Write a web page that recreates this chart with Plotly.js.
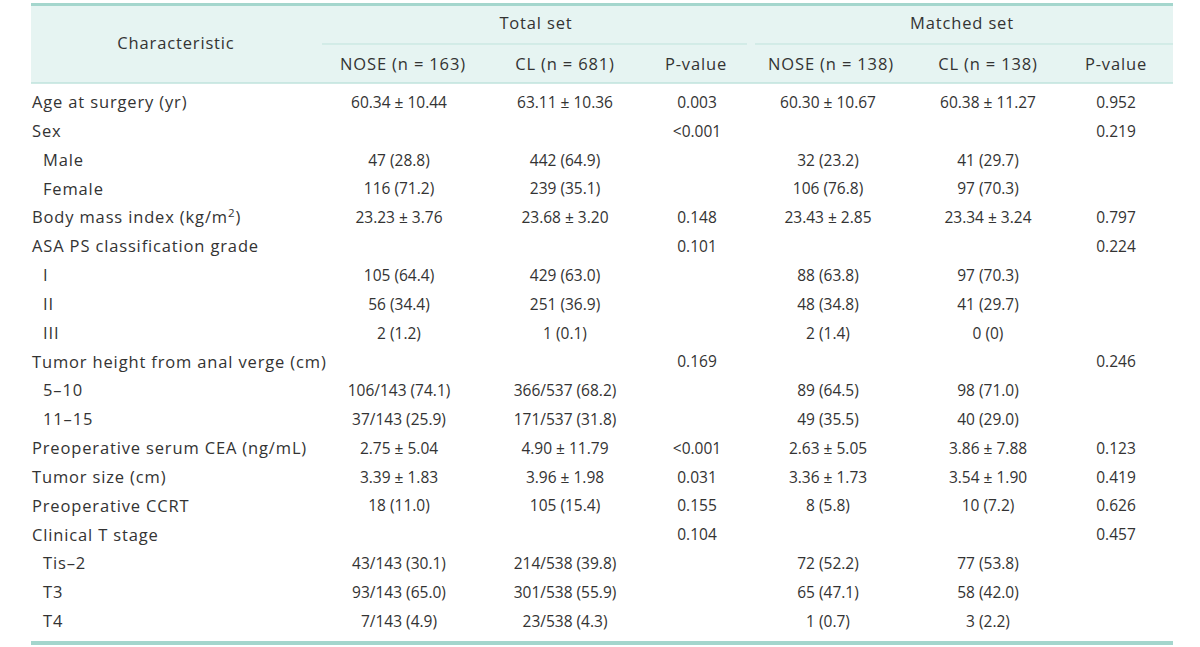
<!DOCTYPE html>
<html>
<head>
<meta charset="utf-8">
<script src="https://cdn.plot.ly/plotly-3.0.1.min.js"></script>
<style>
  body { margin: 0; background: #fff; }
  #tbl { width: 1200px; height: 647px; }
  /* the word columns of the original are set a little wider */
  #tbl .scatterlayer .trace:nth-child(1) text,
  #tbl .scatterlayer .trace:nth-child(8) text,
  #tbl .scatterlayer .trace:nth-child(9) text { letter-spacing: 0.85px; }
</style>
</head>
<body>
<div id="tbl"></div>
<script>
// rows of the table (level 1 = indented sub-item)
var characteristic = ['Age at surgery (yr)', 'Sex', 'Male', 'Female', 'Body mass index (kg/m<sup>2</sup>)',
    'ASA PS classification grade', 'I', 'II', 'III', 'Tumor height from anal verge (cm)', '5–10', '11–15',
    'Preoperative serum CEA (ng/mL)', 'Tumor size (cm)', 'Preoperative CCRT', 'Clinical T stage',
    'Tis–2', 'T3', 'T4'];
var level = [0, 0, 1, 1, 0, 0, 1, 1, 1, 0, 1, 1, 0, 0, 0, 0, 1, 1, 1];

var totalNose = ['60.34 ± 10.44', '', '47 (28.8)', '116 (71.2)', '23.23 ± 3.76', '', '105 (64.4)', '56 (34.4)',
    '2 (1.2)', '', '106/143 (74.1)', '37/143 (25.9)', '2.75 ± 5.04', '3.39 ± 1.83', '18 (11.0)', '',
    '43/143 (30.1)', '93/143 (65.0)', '7/143 (4.9)'];
var totalCL = ['63.11 ± 10.36', '', '442 (64.9)', '239 (35.1)', '23.68 ± 3.20', '', '429 (63.0)', '251 (36.9)',
    '1 (0.1)', '', '366/537 (68.2)', '171/537 (31.8)', '4.90 ± 11.79', '3.96 ± 1.98', '105 (15.4)', '',
    '214/538 (39.8)', '301/538 (55.9)', '23/538 (4.3)'];
var totalP = ['0.003', '&lt;0.001', '', '', '0.148', '0.101', '', '', '', '0.169', '', '', '&lt;0.001', '0.031',
    '0.155', '0.104', '', '', ''];
var matchedNose = ['60.30 ± 10.67', '', '32 (23.2)', '106 (76.8)', '23.43 ± 2.85', '', '88 (63.8)', '48 (34.8)',
    '2 (1.4)', '', '89 (64.5)', '49 (35.5)', '2.63 ± 5.05', '3.36 ± 1.73', '8 (5.8)', '',
    '72 (52.2)', '65 (47.1)', '1 (0.7)'];
var matchedCL = ['60.38 ± 11.27', '', '41 (29.7)', '97 (70.3)', '23.34 ± 3.24', '', '97 (70.3)', '41 (29.7)',
    '0 (0)', '', '98 (71.0)', '40 (29.0)', '3.86 ± 7.88', '3.54 ± 1.90', '10 (7.2)', '',
    '77 (53.8)', '58 (42.0)', '3 (2.2)'];
var matchedP = ['0.952', '0.219', '', '', '0.797', '0.224', '', '', '', '0.246', '', '', '0.123', '0.419',
    '0.626', '0.457', '', '', ''];

var groupHeaders = ['Total set', 'Matched set'];
var subHeaders = ['NOSE (n = 163)', 'CL (n = 681)', 'P-value', 'NOSE (n = 138)', 'CL (n = 138)', 'P-value'];

// layout constants (pixels)
var W = 1200, H = 647;
var firstRow = 104, rowH = 28.83;
var colX = [399, 565, 697, 828, 988, 1116];
var leftX = 32, indent = 11;
var tableL = 31, tableR = 1173;

var wordFont = {family: '"Open Sans", Lato, sans-serif', size: 16.5, color: '#333333'};
var numFont = {family: '"Open Sans", Lato, sans-serif', size: 15.5, color: '#333333'};

function toRow(px) { return (px - firstRow) / rowH; }
function py(px) { return 1 - px / H; }

function textTrace(xs, ys, texts, pos, font) {
    var keep = texts.map(function (t, i) { return t !== '' ? i : -1; }).filter(function (i) { return i >= 0; });
    return {
        type: 'scatter', mode: 'text',
        x: keep.map(function (i) { return xs[i]; }),
        y: keep.map(function (i) { return ys[i]; }),
        text: keep.map(function (i) { return texts[i]; }),
        textposition: pos, textfont: font,
        hoverinfo: 'skip', showlegend: false
    };
}

var rows = characteristic.map(function (d, i) { return i; });
var columns = [totalNose, totalCL, totalP, matchedNose, matchedCL, matchedP];

var data = [];
data.push(textTrace(level.map(function (l) { return leftX + l * indent; }), rows, characteristic,
    'middle right', wordFont));
columns.forEach(function (col, c) {
    data.push(textTrace(rows.map(function () { return colX[c]; }), rows, col, 'middle center', numFont));
});
// header texts
data.push(textTrace([176, 536, 962], [toRow(45), toRow(25), toRow(25)],
    ['Characteristic'].concat(groupHeaders), 'middle center', wordFont));
data.push(textTrace([403, 565, 696, 831, 988, 1116], subHeaders.map(function () { return toRow(66); }),
    subHeaders, 'middle center', wordFont));

var shapes = [
    // header background
    {type: 'rect', xref: 'x', yref: 'paper', x0: tableL, x1: tableR, y0: py(83), y1: py(4),
        fillcolor: '#e6f4f2', line: {width: 0}, layer: 'below'},
    // top rule
    {type: 'line', xref: 'x', yref: 'paper', x0: tableL, x1: tableR, y0: py(4.5), y1: py(4.5),
        line: {color: '#a4d6cd', width: 3}},
    // spanning header rules
    {type: 'line', xref: 'x', yref: 'paper', x0: 322, x1: 747, y0: py(44), y1: py(44),
        line: {color: '#bfe3dc', width: 1}},
    {type: 'line', xref: 'x', yref: 'paper', x0: 755, x1: tableR, y0: py(44), y1: py(44),
        line: {color: '#bfe3dc', width: 1}},
    // header bottom rule
    {type: 'line', xref: 'x', yref: 'paper', x0: tableL, x1: tableR, y0: py(83), y1: py(83),
        line: {color: '#bfe3dc', width: 1.5}},
    // bottom rule
    {type: 'line', xref: 'x', yref: 'paper', x0: tableL, x1: tableR, y0: py(643), y1: py(643),
        line: {color: '#a4d6cd', width: 4}}
];

var layout = {
    width: W, height: H,
    margin: {l: 0, r: 0, t: 0, b: 0},
    paper_bgcolor: '#ffffff', plot_bgcolor: '#ffffff',
    xaxis: {range: [0, W], visible: false, fixedrange: true},
    yaxis: {range: [toRow(H), toRow(0)], visible: false, fixedrange: true},
    shapes: shapes,
    showlegend: false
};

Plotly.newPlot('tbl', data, layout, {displayModeBar: false, staticPlot: true});
</script>
</body>
</html>
